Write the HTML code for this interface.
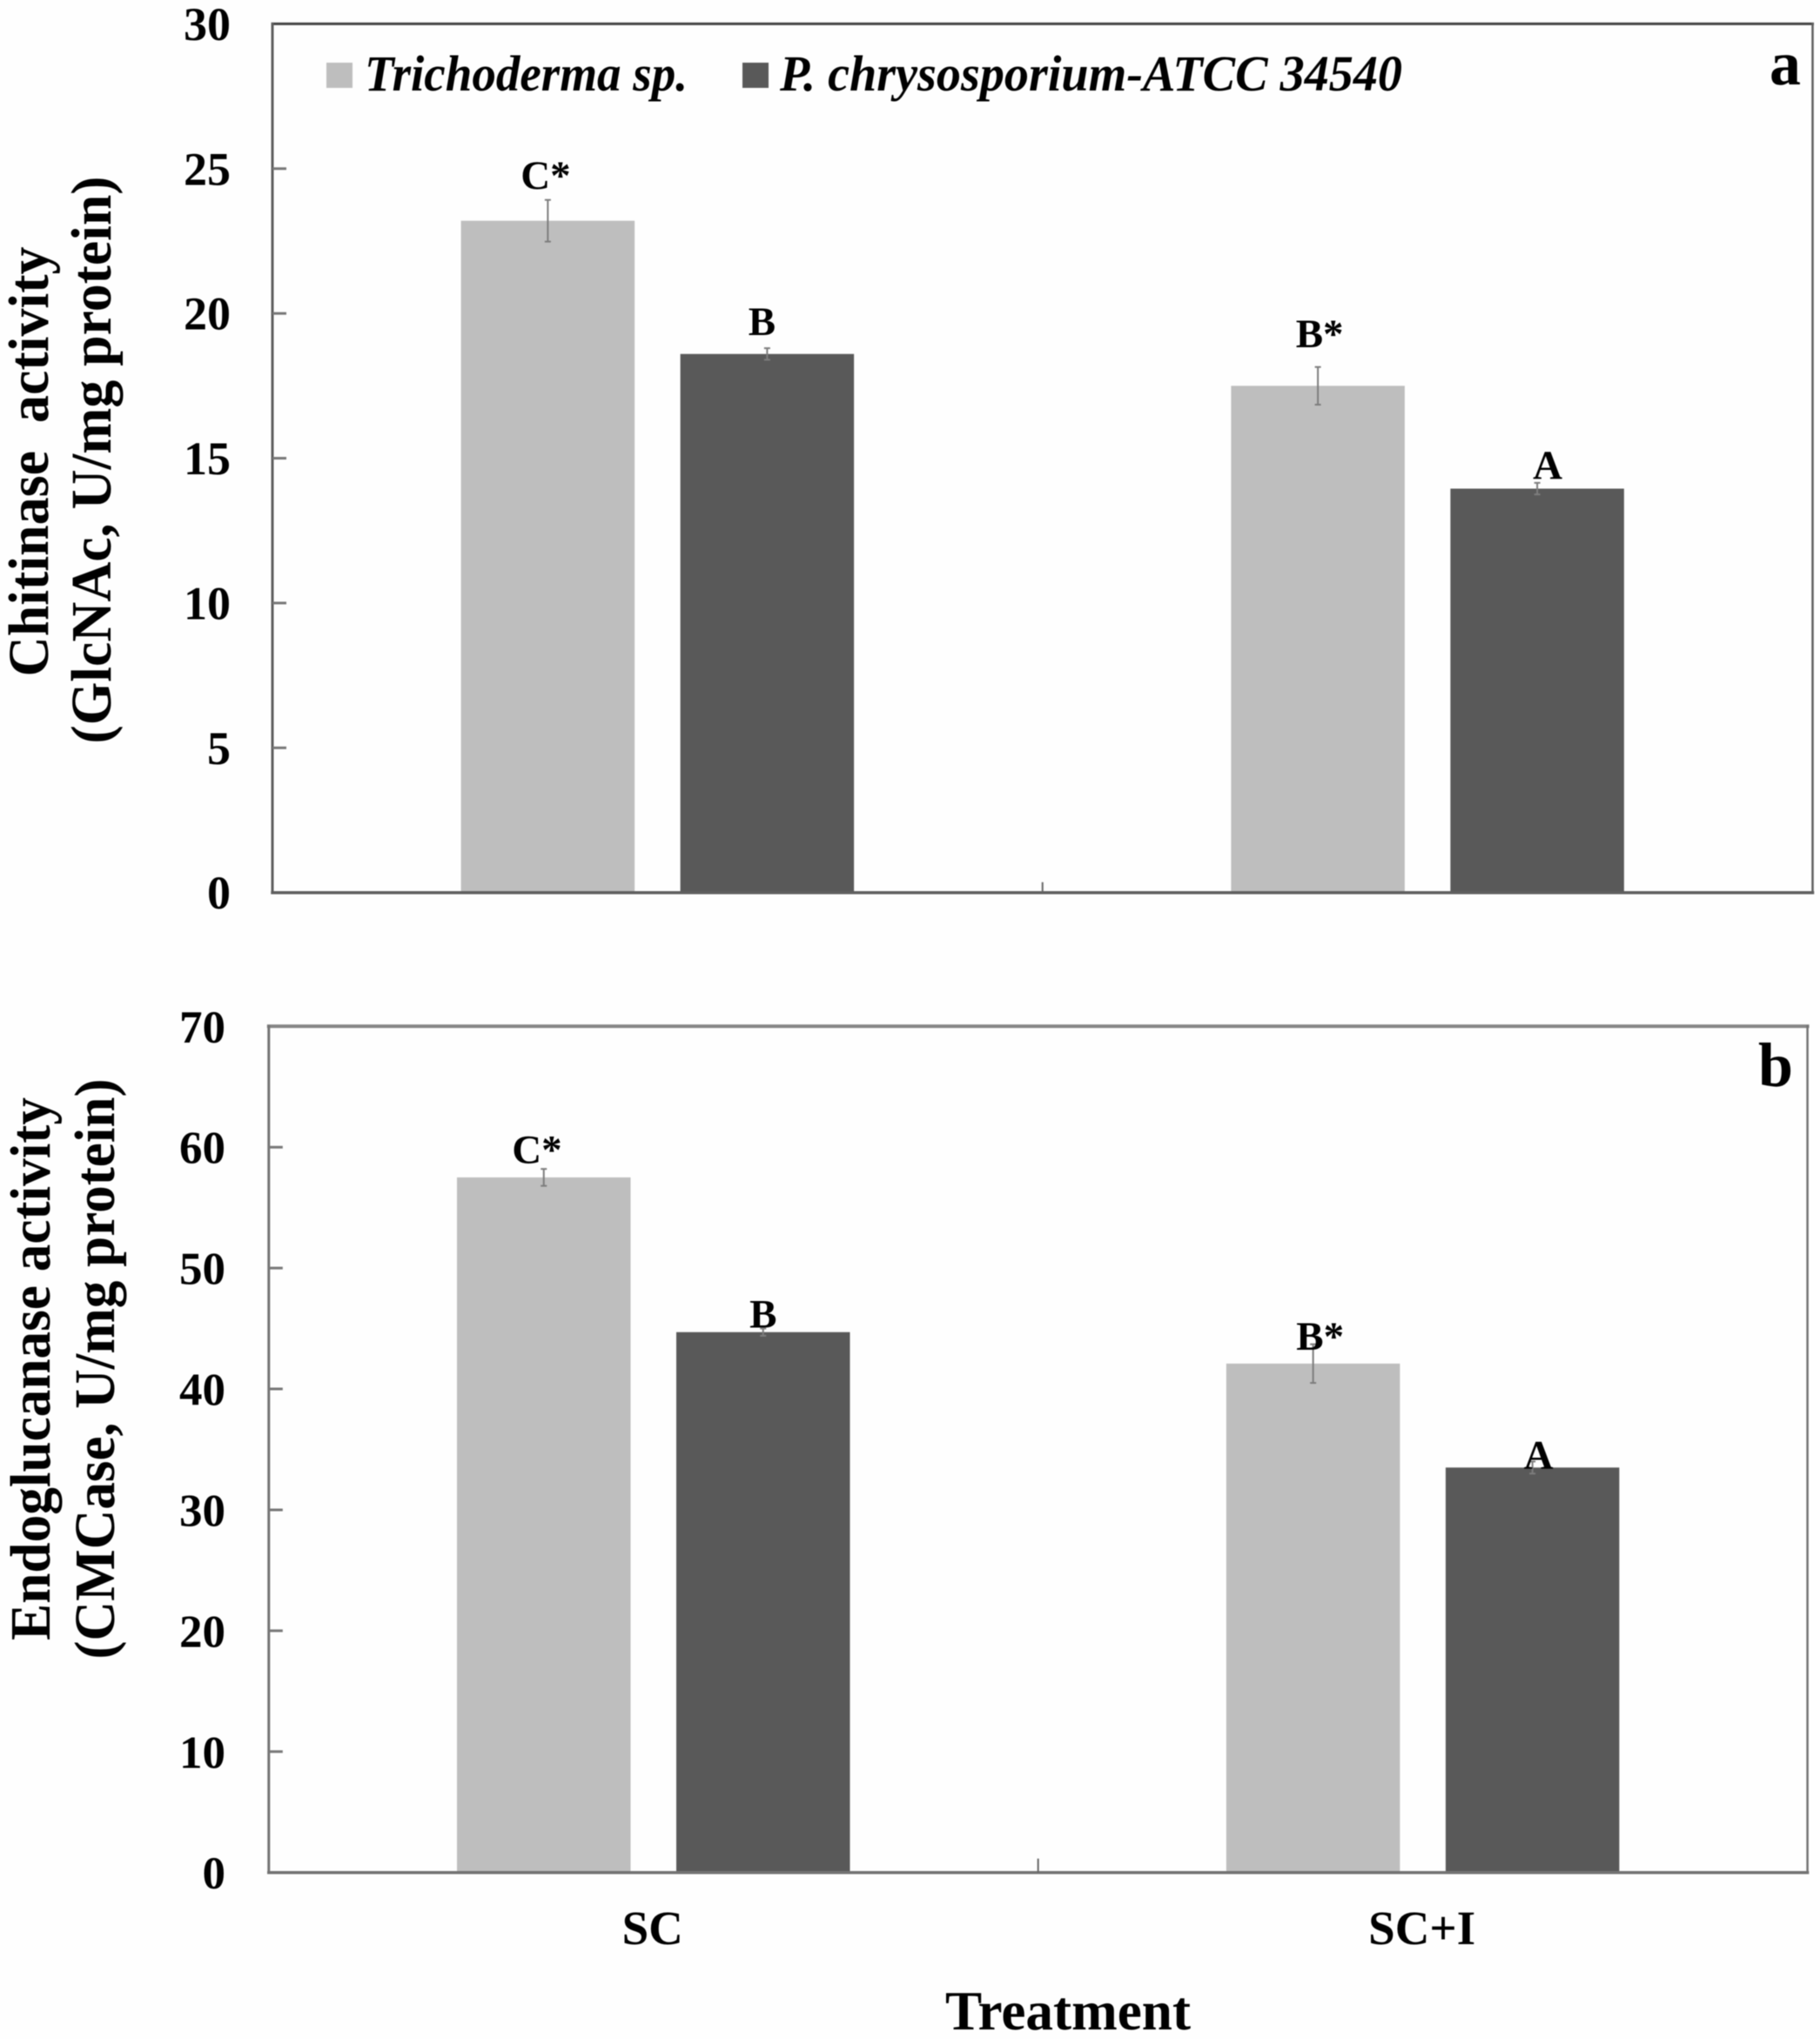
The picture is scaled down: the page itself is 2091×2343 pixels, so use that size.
<!DOCTYPE html>
<html lang="en">
<head>
<meta charset="utf-8">
<title>Chitinase and endoglucanase activity by treatment</title>
<style>
  html, body { margin: 0; padding: 0; background: #fefefe; }
  svg { display: block; }
  text { font-family: "Liberation Serif", serif; font-weight: bold; fill: #000; white-space: pre; }
  .soft { filter: blur(0.6px); }
</style>
</head>
<body>
<svg id="figure" xmlns="http://www.w3.org/2000/svg" width="2091" height="2343" viewBox="0 0 2091 2343">
  <rect x="0" y="0" width="2091" height="2343" fill="#fefefe"/>

  <g id="panel-a" class="soft"></g>
  <g id="panel-b" class="soft"></g>

  <g class="soft">
    <g>
      <rect x="375" y="72" width="30" height="29" fill="#bebebe"/>
      <text x="419" y="104" font-size="58" font-style="italic" textLength="371" lengthAdjust="spacingAndGlyphs">Trichoderma sp.</text>
    </g>
    <g>
      <rect x="853" y="72" width="30" height="29" fill="#595959"/>
      <text x="896" y="104" font-size="58" font-style="italic" textLength="715" lengthAdjust="spacingAndGlyphs">P. chrysosporium-ATCC 34540</text>
    </g>
  </g>

  <g class="soft">
    <text x="2033" y="97" font-size="72">a</text>
    <text x="2020" y="1248" font-size="72">b</text>

    <text transform="translate(55 530.5) rotate(-90)" text-anchor="middle" font-size="66" textLength="494" lengthAdjust="spacingAndGlyphs">Chitinase  activity</text>
    <text transform="translate(127 528.5) rotate(-90)" text-anchor="middle" font-size="66" textLength="652" lengthAdjust="spacingAndGlyphs">(GlcNAc, U/mg protein)</text>

    <text transform="translate(57 1573) rotate(-90)" text-anchor="middle" font-size="66" textLength="624" lengthAdjust="spacingAndGlyphs">Endoglucanase activity</text>
    <text transform="translate(131 1573) rotate(-90)" text-anchor="middle" font-size="66" textLength="667" lengthAdjust="spacingAndGlyphs">(CMCase, U/mg protein)</text>

    <text x="1227" y="2332" text-anchor="middle" font-size="64" textLength="282" lengthAdjust="spacingAndGlyphs">Treatment</text>
  </g>
</svg>

<script>
const categories = ['SC', 'SC+I'];

const chitinaseTicks = [0, 5, 10, 15, 20, 25, 30];
const chitinaseTrichoderma = [23.2, 17.5];
const chitinaseChrysosporium = [18.6, 13.95];
const chitinaseTrichodermaError = [0.72, 0.65];
const chitinaseChrysosporiumError = [0.2, 0.2];
const chitinaseTrichodermaLetters = ['C*', 'B*'];
const chitinaseChrysosporiumLetters = ['B', 'A'];

const endoglucanaseTicks = [0, 10, 20, 30, 40, 50, 60, 70];
const endoglucanaseTrichoderma = [57.5, 42.1];
const endoglucanaseChrysosporium = [44.7, 33.5];
const endoglucanaseTrichodermaError = [0.7, 1.6];
const endoglucanaseChrysosporiumError = [0.3, 0.5];
const endoglucanaseTrichodermaLetters = ['C*', 'B*'];
const endoglucanaseChrysosporiumLetters = ['B', 'A'];

const SVG_NS = 'http://www.w3.org/2000/svg';

function make(parent, tag, attrs) {
  const el = document.createElementNS(SVG_NS, tag);
  Object.keys(attrs).forEach(function (k) { el.setAttribute(k, attrs[k]); });
  parent.appendChild(el);
  return el;
}

function drawPanel(cfg) {
  const g = document.getElementById(cfg.id);
  const yScale = function (v) {
    return cfg.bottom - (v / cfg.max) * (cfg.bottom - cfg.top);
  };
  const band = (cfg.right - cfg.left) / cfg.categories.length;
  const bandCenter = function (i) { return cfg.left + band * (i + 0.5); };
  const barWidth = 199.5;
  const barOffset = 126;

  cfg.series.forEach(function (s, sIdx) {
    s.values.forEach(function (v, i) {
      const cx = bandCenter(i) + (sIdx === 0 ? -barOffset : barOffset);
      const y = yScale(v);

      const bar = make(g, 'rect', { x: cx - barWidth / 2, y: y, width: barWidth, height: cfg.bottom - y, fill: s.color });
      
      

      const hi = yScale(v + s.errors[i]);
      const lo = yScale(v - s.errors[i]);
      const stem = make(g, 'line', { x1: cx, x2: cx, y1: hi, y2: lo, stroke: '#7d7d7d', 'stroke-width': 2 });
      
      

      const capTop = make(g, 'line', { x1: cx - 3.5, x2: cx + 3.5, y1: hi, y2: hi, stroke: '#7d7d7d', 'stroke-width': 2 });
      
      

      const capBottom = make(g, 'line', { x1: cx - 3.5, x2: cx + 3.5, y1: lo, y2: lo, stroke: '#7d7d7d', 'stroke-width': 2 });
      
      

      const nudge = cfg.letterNudge[i][sIdx];
      const letter = make(g, 'text', { x: cx + nudge[0], y: hi + nudge[1], 'text-anchor': 'middle', 'font-size': 47 });
      letter.textContent = s.letters[i];
      
      
    });
  });

  const frame = [
    ['top', cfg.left, cfg.top, cfg.right, cfg.top, cfg.frameTop, cfg.frameTopWidth],
    ['left', cfg.left, cfg.top, cfg.left, cfg.bottom, cfg.frameSide, 3],
    ['right', cfg.right, cfg.top, cfg.right, cfg.bottom, cfg.frameSide, 2.5],
    ['bottom', cfg.left, cfg.bottom, cfg.right, cfg.bottom, cfg.frameSide, 3.5]
  ];
  frame.forEach(function (f) {
    const line = make(g, 'line', { x1: f[1], y1: f[2], x2: f[3], y2: f[4], stroke: f[5], 'stroke-width': f[6], 'stroke-linecap': 'square' });
    
    
  });

  cfg.ticks.forEach(function (t) {
    const y = yScale(t);
    if (t !== 0 && t !== cfg.max) {
      const mark = make(g, 'line', { x1: cfg.left, x2: cfg.left + 16, y1: y, y2: y, stroke: '#777', 'stroke-width': 3 });
      
      
    }
    const label = make(g, 'text', { x: cfg.labelRight, y: y + 18.5, 'text-anchor': 'end', 'font-size': cfg.tickFont });
    label.textContent = String(t);
    
    
  });

  const mid = (cfg.left + cfg.right) / 2;
  const xTick = make(g, 'line', { x1: mid, x2: mid, y1: cfg.bottom - cfg.midTick, y2: cfg.bottom, stroke: '#666', 'stroke-width': 2 });
  
  

  if (cfg.showCategories) {
    cfg.categories.forEach(function (c, i) {
      const label = make(g, 'text', { x: bandCenter(i) - 1, y: cfg.bottom + 82.5, 'text-anchor': 'middle', 'font-size': 55 });
      label.textContent = c;
      
      
    });
  }
}

drawPanel({
  id: 'panel-a', short: 'chitinase', categories: categories, ticks: chitinaseTicks, max: 30,
  left: 313, right: 2082.5, top: 27.4, bottom: 1025.7,
  labelRight: 265, tickFont: 54, midTick: 12, showCategories: false,
  frameTop: '#444', frameTopWidth: 3, frameSide: '#5f5f5f',
  letterNudge: [[[-2.4, -12.5], [-6, -15]], [[2, -22.5], [12, -5]]],
  series: [
    { key: 'trichoderma', color: '#bebebe', values: chitinaseTrichoderma, errors: chitinaseTrichodermaError, letters: chitinaseTrichodermaLetters },
    { key: 'chrysosporium', color: '#595959', values: chitinaseChrysosporium, errors: chitinaseChrysosporiumError, letters: chitinaseChrysosporiumLetters }
  ]
});

drawPanel({
  id: 'panel-b', short: 'endoglucanase', categories: categories, ticks: endoglucanaseTicks, max: 70,
  left: 308.8, right: 2076.6, top: 1179.3, bottom: 2151.7,
  labelRight: 259, tickFont: 53, midTick: 16, showCategories: true,
  frameTop: '#858585', frameTopWidth: 4, frameSide: '#737373',
  letterNudge: [[[-7.8, -6.5], [0, -1]], [[8, 6.5], [7, 8]]],
  series: [
    { key: 'trichoderma', color: '#bebebe', values: endoglucanaseTrichoderma, errors: endoglucanaseTrichodermaError, letters: endoglucanaseTrichodermaLetters },
    { key: 'chrysosporium', color: '#595959', values: endoglucanaseChrysosporium, errors: endoglucanaseChrysosporiumError, letters: endoglucanaseChrysosporiumLetters }
  ]
});
</script>
</body>
</html>
